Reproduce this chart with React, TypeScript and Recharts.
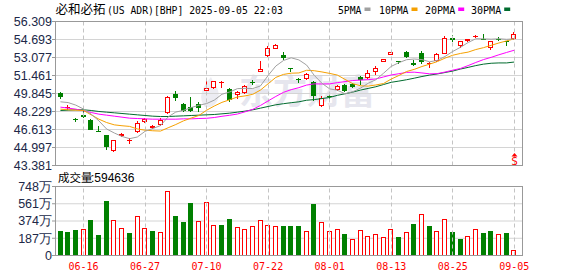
import React from 'react';
import { ComposedChart, Bar, Line, XAxis, YAxis, CartesianGrid, ReferenceLine, ReferenceDot } from 'recharts';

// BHP (US ADR) daily candles, 2025-06-11 .. 2025-09-05
const dates = [
  '06-11', '06-12', '06-13', '06-16', '06-17', '06-18', '06-20', '06-23', '06-24', '06-25',
  '06-26', '06-27', '06-30', '07-01', '07-02', '07-03', '07-07', '07-08', '07-09', '07-10',
  '07-11', '07-14', '07-15', '07-16', '07-17', '07-18', '07-21', '07-22', '07-23', '07-24',
  '07-25', '07-28', '07-29', '07-30', '07-31', '08-01', '08-04', '08-05', '08-06', '08-07',
  '08-08', '08-11', '08-12', '08-13', '08-14', '08-15', '08-18', '08-19', '08-20', '08-21',
  '08-22', '08-25', '08-26', '08-27', '08-28', '08-29', '09-02', '09-03', '09-04', '09-05',
];
const opens = [
  49.85, 48.53, 47.54, 47.93, 47.48, 46.49, 46.11, 44.67, 46.02, 45.6,
  46.43, 47.27, 46.76, 47.03, 48.05, 49.82, 48.92, 48.62, 48.89, 50.09,
  50.32, 50.83, 50.26, 49.7, 49.91, 50.89, 51.82, 53.2, 53.86, 53.32,
  52.09, 51.16, 51.19, 50.86, 48.71, 49.61, 50.12, 50.62, 50.71, 51.31,
  51.28, 51.76, 52.66, 53.32, 52.75, 53.56, 52.6, 53.5, 52.48, 52.72,
  53.41, 54.84, 54.13, 54.54, 54.99, 54.78, 53.92, 54.78, 54.57, 54.72,
];
const highs = [
  49.94, 48.77, 47.69, 48.32, 47.57, 46.94, 46.16, 45.69, 46.31, 45.81,
  47.42, 47.63, 47.0, 47.66, 49.64, 50.09, 48.98, 49.55, 49.1, 51.04,
  51.01, 51.01, 50.38, 50.06, 50.65, 51.07, 52.78, 54.07, 54.33, 53.53,
  52.12, 51.22, 51.73, 50.98, 49.61, 49.85, 50.59, 50.71, 50.8, 51.4,
  51.94, 52.27, 52.96, 53.59, 52.78, 53.68, 52.87, 53.68, 52.63, 53.44,
  54.99, 55.11, 54.57, 54.78, 55.11, 55.2, 54.6, 54.93, 54.6, 55.41,
];
const lows = [
  49.37, 48.38, 47.27, 47.69, 46.58, 46.43, 44.79, 44.55, 45.9, 45.3,
  46.34, 47.18, 46.67, 46.94, 47.99, 49.13, 48.14, 48.17, 48.14, 50.06,
  50.23, 50.38, 49.04, 49.34, 49.82, 50.62, 51.82, 53.14, 53.83, 52.87,
  51.79, 50.77, 51.07, 49.19, 48.59, 49.37, 50.06, 49.97, 50.38, 50.62,
  51.16, 51.52, 52.63, 53.29, 52.51, 53.02, 52.27, 52.48, 52.09, 52.63,
  53.35, 54.48, 53.95, 54.48, 54.84, 54.72, 53.71, 54.6, 54.07, 54.69,
];
const closes = [
  49.49, 48.62, 47.48, 47.75, 46.61, 46.46, 45.0, 45.66, 46.19, 45.66,
  47.18, 47.54, 46.94, 47.48, 49.55, 49.4, 48.26, 48.23, 48.5, 50.32,
  50.95, 50.89, 49.22, 50.0, 50.5, 50.83, 52.03, 53.95, 54.24, 52.99,
  52.03, 51.1, 51.61, 49.61, 49.43, 49.55, 50.5, 50.03, 50.47, 51.07,
  51.7, 52.12, 52.93, 53.56, 52.72, 53.08, 52.42, 52.66, 52.57, 53.38,
  54.81, 54.66, 54.54, 54.72, 55.05, 54.75, 54.54, 54.72, 54.48, 55.23,
];
// volume in 万 shares; volUp = 1 for the red (hollow) bars
const volumes = [
  263, 252, 274, 292, 383, 219, 591, 390, 303, 241,
  423, 303, 263, 252, 697, 427, 361, 569, 369, 577,
  336, 328, 394, 314, 292, 325, 380, 336, 325, 317,
  317, 317, 270, 558, 361, 263, 292, 230, 182, 281,
  215, 237, 204, 292, 197, 252, 339, 449, 317, 270,
  401, 252, 175, 215, 292, 241, 270, 237, 241, 59.46,
];
const volUp = [
  0, 0, 0, 1, 0, 0, 0, 1, 1, 0,
  1, 1, 0, 1, 1, 0, 0, 0, 1, 1,
  1, 0, 0, 1, 1, 1, 1, 1, 1, 0,
  0, 0, 1, 0, 1, 1, 1, 0, 1, 1,
  1, 1, 1, 1, 0, 1, 0, 1, 0, 1,
  1, 0, 0, 1, 1, 0, 0, 1, 0, 1,
];
const ma5 = [
  49.1, 49.03, 48.8, 48.45, 47.99, 47.39, 46.66, 46.3, 45.99, 45.79,
  45.94, 46.45, 46.7, 46.96, 47.74, 48.18, 48.33, 48.58, 48.79, 48.94,
  49.25, 49.78, 49.98, 50.28, 50.31, 50.29, 50.52, 51.46, 52.31, 52.81,
  53.05, 52.86, 52.4, 51.47, 50.76, 50.26, 50.14, 49.82, 50.0, 50.32,
  50.76, 51.08, 51.66, 52.28, 52.61, 52.88, 52.94, 52.89, 52.69, 52.82,
  53.17, 53.62, 53.99, 54.42, 54.76, 54.75, 54.72, 54.76, 54.71, 54.75,
];
const ma10 = [
  48.44, 48.38, 48.35, 48.32, 47.93, 47.54, 47.24, 47.03, 46.95, 46.89,
  46.66, 46.55, 46.5, 46.47, 46.77, 47.06, 47.39, 47.64, 47.87, 48.34,
  48.72, 49.05, 49.28, 49.53, 49.63, 49.77, 50.15, 50.72, 51.29, 51.56,
  51.67, 51.69, 51.93, 51.89, 51.78, 51.65, 51.5, 51.11, 50.73, 50.54,
  50.51, 50.61, 50.74, 51.14, 51.46, 51.82, 52.01, 52.27, 52.48, 52.71,
  53.02, 53.28, 53.44, 53.56, 53.79, 53.96, 54.17, 54.38, 54.57, 54.75,
];
const ma20 = [
  48.62, 48.53, 48.44, 48.29, 48.14, 47.99, 47.9, 47.81, 47.72, 47.63,
  47.6, 47.57, 47.54, 47.54, 47.54, 47.54, 47.57, 47.57, 47.6, 47.62,
  47.69, 47.8, 47.89, 48.0, 48.2, 48.42, 48.77, 49.18, 49.58, 49.95,
  50.19, 50.37, 50.6, 50.71, 50.7, 50.71, 50.82, 50.91, 51.01, 51.05,
  51.09, 51.15, 51.33, 51.51, 51.62, 51.74, 51.76, 51.69, 51.61, 51.63,
  51.77, 51.94, 52.09, 52.35, 52.63, 52.89, 53.09, 53.32, 53.53, 53.73,
];
const ma30 = [
  48.32, 48.35, 48.38, 48.38, 48.32, 48.23, 48.17, 48.11, 48.05, 47.99,
  47.93, 47.87, 47.81, 47.78, 47.78, 47.81, 47.84, 47.87, 47.9, 47.93,
  47.96, 48.02, 48.08, 48.17, 48.26, 48.38, 48.53, 48.68, 48.83, 48.93,
  49.02, 49.1, 49.24, 49.3, 49.39, 49.49, 49.68, 49.82, 49.97, 50.15,
  50.3, 50.45, 50.65, 50.85, 50.96, 51.08, 51.22, 51.37, 51.5, 51.6,
  51.73, 51.86, 52.04, 52.19, 52.35, 52.48, 52.56, 52.59, 52.59, 52.67,
];

const labelDates = ['06-16', '06-27', '07-10', '07-22', '08-01', '08-13', '08-25', '09-05'];
const priceTicks = [43.381, 44.997, 46.613, 48.229, 49.845, 51.461, 53.077, 54.693, 56.309];
const volTicks = [0, 187, 374, 561, 748];
const lastVolume = 594636;
const signal = { date: '09-05', price: 43.83, label: 'S' };

const RED = '#ff0000';
const GREEN = '#008000';
const AXIS_TEXT = '#202848';
const GRID = '#d4d4d4';
const BORDER = '#999999';
const MONO = '"DejaVu Sans Mono", monospace';
const SANS = '"Liberation Sans", Arial, sans-serif';
const CJK = '"Noto Sans CJK SC", sans-serif';

const rows = dates.map((date, i) => ({
  date,
  open: opens[i],
  high: highs[i],
  low: lows[i],
  close: closes[i],
  range: [lows[i], highs[i]],
  vol: volumes[i],
  volUp: volUp[i] === 1,
  ma5: ma5[i],
  ma10: ma10[i],
  ma20: ma20[i],
  ma30: ma30[i],
}));

const xPadding = { left: 1.6, right: 3.9 };

function Candle(props: any) {
  const { x, y, width, height, payload } = props;
  if (x == null || y == null || !payload) return null;
  const top = Math.min(y, y + height);
  const h = Math.abs(height);
  const { open, close, high, low } = payload;
  const py = (v: number) => top + ((high - v) / (high - low)) * h;
  const cx = Math.floor(x + width / 2);
  const up = close >= open;
  const color = up ? RED : GREEN;
  const wx = cx + 0.5;
  const yHi = Math.round(top);
  const yLo = Math.round(top + h);
  const r1 = Math.round(py(Math.max(open, close)));
  const r2 = Math.round(py(Math.min(open, close)));
  return (
    <g>
      <line x1={wx} x2={wx} y1={yHi} y2={r1} stroke={color} />
      <line x1={wx} x2={wx} y1={r2} y2={yLo} stroke={color} />
      {r2 - r1 < 2 ? (
        <line x1={cx - 2} x2={cx + 3} y1={r1 + 0.5} y2={r1 + 0.5} stroke={color} />
      ) : up ? (
        <rect x={cx - 1.5} y={r1 + 0.5} width={4} height={r2 - r1 - 1} fill="#fff" stroke={color} />
      ) : (
        <rect x={cx - 2} y={r1} width={5} height={r2 - r1} fill={color} />
      )}
    </g>
  );
}

function VolBar(props: any) {
  const { x, y, width, height, payload } = props;
  if (x == null || y == null || !payload) return null;
  const cx = Math.floor(x + width / 2);
  const t = Math.round(Math.min(y, y + height));
  const b = Math.round(Math.max(y, y + height));
  if (b - t < 1) return null;
  return payload.volUp ? (
    <rect x={cx - 1.5} y={t + 0.5} width={4} height={Math.max(b - t - 1, 0.5)} fill="#fff" stroke={RED} />
  ) : (
    <rect x={cx - 2} y={t} width={5} height={b - t} fill={GREEN} />
  );
}

function DashLine(props: any) {
  const { x1, y1, y2 } = props;
  if (x1 == null) return null;
  const xx = Math.floor(x1) + 0.5;
  return <line x1={xx} x2={xx} y1={y1} y2={y2} stroke="#c4c4c4" strokeDasharray="4 3" />;
}

function SignalMark(props: any) {
  const { cx, cy } = props;
  if (cx == null) return null;
  const c = Math.floor(cx) + 0.5;
  return (
    <g>
      <path d={`M${c},${cy - 7.5} L${c - 3},${cy - 4} L${c + 3},${cy - 4} Z`} fill={RED} />
      <text x={c} y={cy + 4.5} textAnchor="middle" fill={RED} fontSize={11} fontFamily={MONO}>
        {signal.label}
      </text>
    </g>
  );
}

function DateTick(props: any) {
  const { x, y, payload } = props;
  return (
    <text x={x} y={y + 14} textAnchor="middle" fill={RED} fontSize={10} fontFamily={MONO}>
      {payload.value}
    </text>
  );
}

const legend = [
  { name: '5PMA', color: '#a0a0a0', x: 338, sq: 364.5 },
  { name: '10PMA', color: '#f5a000', x: 379, sq: 411.5 },
  { name: '20PMA', color: '#ff00ff', x: 425, sq: 458.2 },
  { name: '30PMA', color: '#006b2e', x: 471, sq: 504.2 },
];

export default function App() {
  const yTick = { fill: AXIS_TEXT, fontSize: 12.5, fontFamily: SANS };
  return (
    <div style={{ position: 'absolute', left: 0, top: 0, width: 578, height: 276, background: '#fff', overflow: 'hidden' }}>
      {/* watermark */}
      <svg width={578} height={276} style={{ position: 'absolute', left: 0, top: 0 }}>
        <path d="M211,77 C201,88 198,99 205,107 C214,109 221,100 218,90 C216,85 213,82 211,77 Z" fill="#ececf2" />
        <text x={239} y={104} fill="#e6e6ee" fontSize={34} fontWeight="bold" fontFamily={CJK}>
          东方财富
        </text>
      </svg>

      <div style={{ position: 'absolute', left: 0, top: 0 }}>
        <ComposedChart width={578} height={176} data={rows} margin={{ top: 21.5, right: 56, bottom: 10.5, left: 0 }}>
          <CartesianGrid vertical={false} stroke={GRID} />
          <XAxis dataKey="date" hide padding={xPadding} />
          <YAxis
            domain={[43.381, 56.309]}
            allowDataOverflow
            ticks={priceTicks}
            interval={0}
            width={55}
            axisLine={false}
            tickSize={3}
            tickMargin={0}
            tickLine={{ stroke: BORDER }}
            tick={yTick}
            tickFormatter={(v: number) => v.toFixed(3)}
          />
          {labelDates.map((d) => (
            <ReferenceLine key={d} x={d} shape={DashLine} />
          ))}
          <Line dataKey="ma30" stroke="#006b2e" strokeWidth={1} dot={false} isAnimationActive={false} />
          <Line dataKey="ma20" stroke="#ff00ff" strokeWidth={1} dot={false} isAnimationActive={false} />
          <Line dataKey="ma10" stroke="#f5a000" strokeWidth={1} dot={false} isAnimationActive={false} />
          <Line dataKey="ma5" stroke="#a0a0a0" strokeWidth={1} dot={false} isAnimationActive={false} />
          <Bar dataKey="range" barSize={5} shape={Candle} isAnimationActive={false} />
          <ReferenceDot x={signal.date} y={signal.price} shape={SignalMark} />
        </ComposedChart>
      </div>

      <div style={{ position: 'absolute', left: 0, top: 176 }}>
        <ComposedChart width={578} height={100} data={rows} margin={{ top: 10.5, right: 56, bottom: 0, left: 0 }}>
          <CartesianGrid vertical={false} stroke={GRID} />
          <XAxis
            dataKey="date"
            ticks={labelDates}
            interval={0}
            height={20.5}
            axisLine={false}
            tickLine={false}
            tickSize={0}
            tickMargin={0}
            padding={xPadding}
            tick={DateTick}
          />
          <YAxis
            domain={[0, 748]}
            allowDataOverflow
            ticks={volTicks}
            interval={0}
            width={55}
            axisLine={false}
            tickSize={3}
            tickMargin={0}
            tickLine={{ stroke: BORDER }}
            tick={yTick}
            tickFormatter={(v: number) => (v === 0 ? '0' : `${v}万`)}
          />
          {labelDates.map((d) => (
            <ReferenceLine key={d} x={d} shape={DashLine} />
          ))}
          <Bar dataKey="vol" barSize={5} shape={VolBar} isAnimationActive={false} />
        </ComposedChart>
      </div>

      {/* plot frames */}
      <div style={{ position: 'absolute', left: 55, top: 21, width: 468, height: 145, border: `1px solid ${BORDER}`, boxSizing: 'border-box', pointerEvents: 'none' }} />
      <div style={{ position: 'absolute', left: 55, top: 186, width: 468, height: 70, border: `1px solid ${BORDER}`, boxSizing: 'border-box', pointerEvents: 'none' }} />

      {/* header texts */}
      <svg width={578} height={190} style={{ position: 'absolute', left: 0, top: 0, pointerEvents: 'none' }}>
        <text y={13.5} fill="#000">
          <tspan x={55.5} fontFamily={CJK} fontSize={12.5}>必和必拓</tspan>
          <tspan x={107} fontFamily={MONO} fontSize={11} textLength={176} lengthAdjust="spacingAndGlyphs">
            (US ADR)[BHP] 2025-09-05 22:03
          </tspan>
        </text>
        {legend.map((l) => (
          <g key={l.name}>
            <text x={l.x} y={13.5} fill="#000" fontFamily={MONO} fontSize={11} textLength={l.sq - l.x - 3} lengthAdjust="spacingAndGlyphs">
              {l.name}
            </text>
            <rect x={l.sq} y={7.5} width={6} height={3.5} fill={l.color} />
          </g>
        ))}
        <text y={182} fill="#000">
          <tspan x={58} fontFamily={CJK} fontSize={11.5}>成交量</tspan>
          <tspan x={91} fontFamily={SANS} fontSize={12}>:{lastVolume}</tspan>
        </text>
      </svg>
    </div>
  );
}
